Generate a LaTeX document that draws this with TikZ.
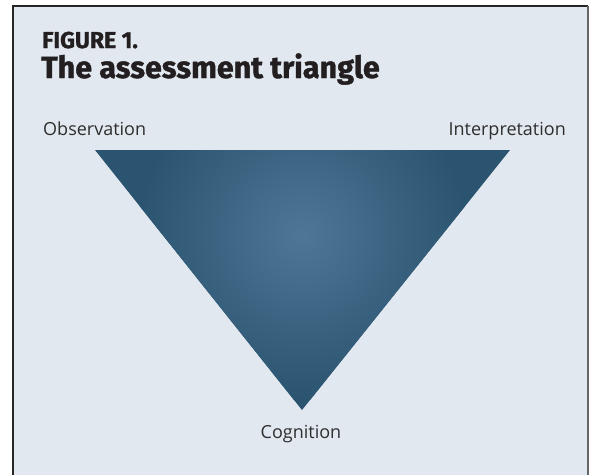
\documentclass[tikz,border=0pt]{standalone}
\usepackage{fontspec}
\setmainfont{Open Sans}
\newfontfamily\titlefont{Fira Sans}
\begin{document}
\definecolor{panelbg}{HTML}{E1E8EF}
\definecolor{tridark}{HTML}{2B5470}
\definecolor{trilight}{HTML}{4E7696}
\definecolor{labelgray}{HTML}{2E2E2E}
\definecolor{titleink}{HTML}{231F20}
\begin{tikzpicture}[x=1pt,y=-1pt,
  cornerlabel/.style={font=\fontsize{18}{20}\selectfont, text=labelgray, inner sep=0pt},
  titletext/.style={text=titleink, inner sep=0pt, anchor=base west}]
  \useasboundingbox (0,0) rectangle (592,475);
  % panel
  \fill[panelbg] (13,6) rectangle (588,475);
  \draw[line width=1.4pt, black!85] (13,475) -- (13,6) -- (588,6);
  \draw[line width=2pt, black!60] (588,6) -- (588,475);
  % title
  \node[titletext, font=\titlefont\bfseries\addfontfeature{FakeBold=1.3}\fontsize{23}{25}\selectfont] (fig) at (42,48) {FIGURE 1.};
  \node[titletext, font=\titlefont\bfseries\addfontfeature{FakeBold=1.3}\fontsize{30.5}{33}\selectfont] (title) at (41,78) {The assessment triangle};
  % triangle corners
  \coordinate (obs) at (95,150);
  \coordinate (int) at (510,150);
  \coordinate (cog) at (302,410);
  \fill[tridark] (obs) -- (int) -- (cog) -- cycle;
  \begin{scope}
    \clip (obs) -- (int) -- (cog) -- cycle;
    \shade[inner color=trilight, outer color=tridark] (302,235) circle (165);
  \end{scope}
  % labels
  \node[cornerlabel, anchor=base west] (lobs) at (43,135) {Observation};
  \node[cornerlabel, anchor=base east] (lint) at (566,135) {Interpretation};
  \node[cornerlabel, anchor=base] (lcog) at (301,438) {Cognition};
\end{tikzpicture}
\end{document}
